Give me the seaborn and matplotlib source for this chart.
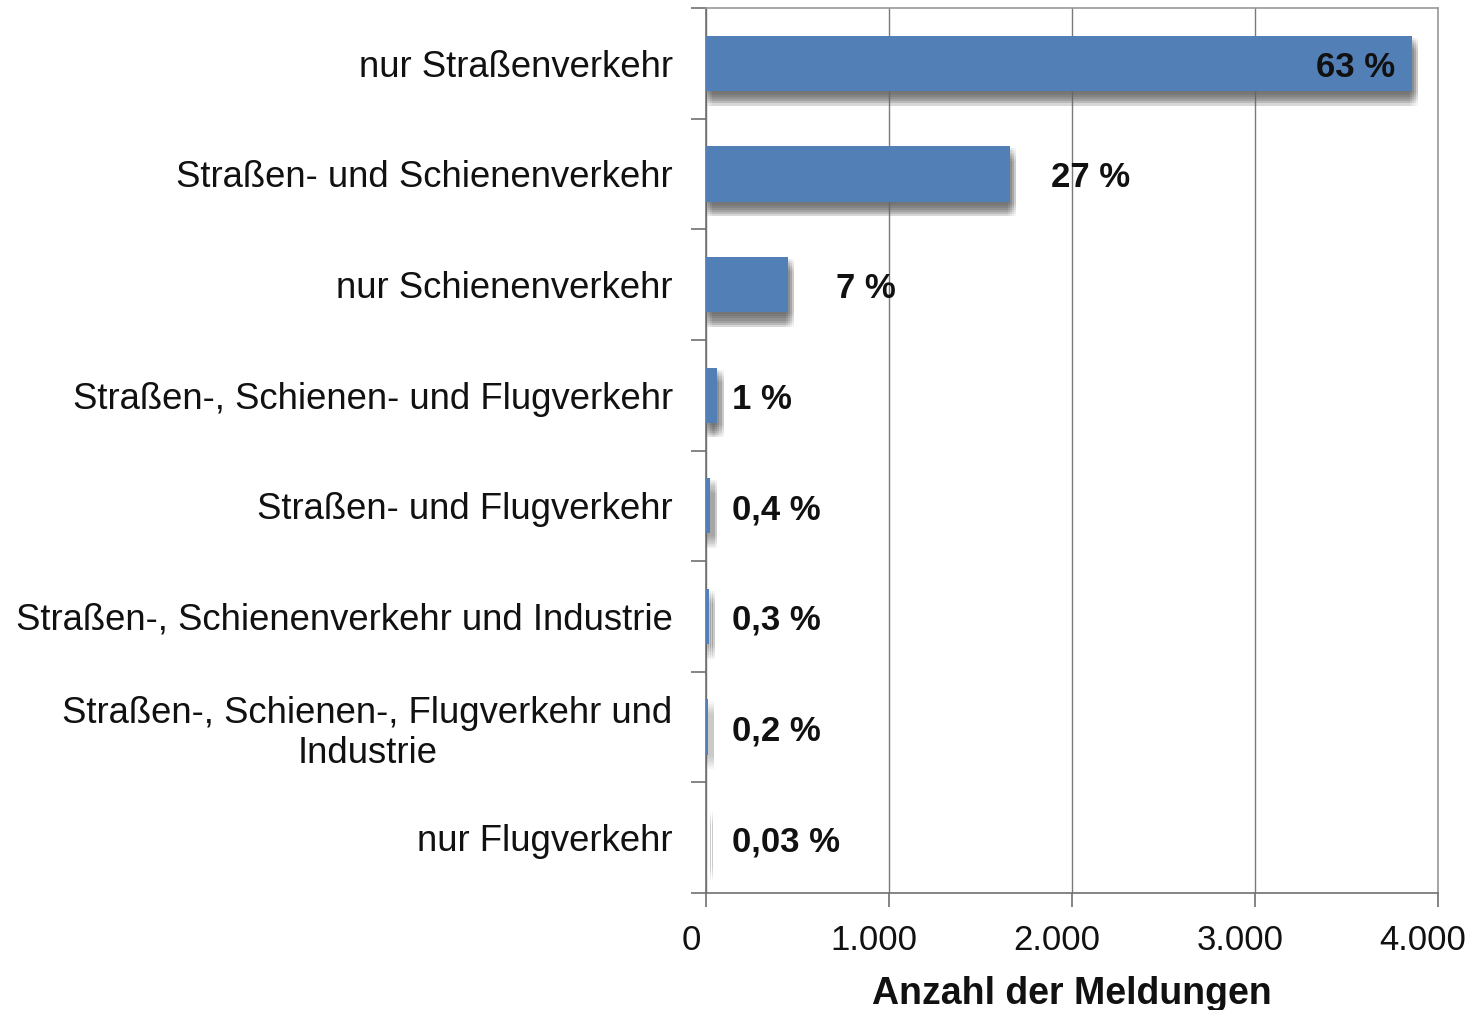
import matplotlib
matplotlib.use("Agg")
import matplotlib.pyplot as plt
import matplotlib.patheffects as pe
import matplotlib.transforms as mtransforms
from matplotlib.ticker import FuncFormatter
import seaborn as sns
import pandas as pd

categories = [
    "nur Straßenverkehr",
    "Straßen- und Schienenverkehr",
    "nur Schienenverkehr",
    "Straßen-, Schienen- und Flugverkehr",
    "Straßen- und Flugverkehr",
    "Straßen-, Schienenverkehr und Industrie",
    "Straßen-, Schienen-, Flugverkehr und\nIndustrie",
    "nur Flugverkehr",
]
counts = [3858, 1660, 448, 62, 24, 17, 12, 2]
pct_labels = ["63 %", "27 %", "7 %", "1 %", "0,4 %", "0,3 %", "0,2 %", "0,03 %"]
x_ticks = [0, 1000, 2000, 3000, 4000]

# label offsets (pixels) from bar end; negative = inside bar
label_offsets = [-17, 41, 48, 15, 22, 23, 24, 26]

sns.set_theme(style="white")
plt.rcParams["font.family"] = ["Liberation Sans", "DejaVu Sans"]

df = pd.DataFrame({"cat": categories, "n": counts})

fig = plt.figure(figsize=(14.77, 10.10), dpi=100)
ax = fig.add_axes([706 / 1477, 1 - 893 / 1010, (1438 - 706) / 1477, (893 - 8) / 1010])

bar_color = "#5280B6"
sns.barplot(data=df, y="cat", x="n", orient="h", color=bar_color, width=0.5,
            saturation=1, ax=ax, zorder=3)

# soft (blurred-looking) drop shadow from layered translucent copies
shadow = []
for dy in (-1.5, -3, -4.5, -6, -7.5, -9, -10.5):
    for dx in (-1.5, 0, 1.5, 3, 4.5):
        shadow.append(pe.SimplePatchShadow(offset=(dx, dy), shadow_rgbFace="#666666", alpha=0.055))
shadow.append(pe.Normal())
for p in ax.patches:
    p.set_edgecolor("none")
    p.set_path_effects(shadow)

ax.set_xlim(0, 4000)
ax.set_ylim(len(categories) - 0.5, -0.5)
ax.set_xticks(x_ticks)
ax.xaxis.set_major_formatter(FuncFormatter(lambda v, _: f"{int(v):,}".replace(",", ".")))

ax.grid(axis="x", color="#7a7a7a", linewidth=1.0, zorder=0)
ax.grid(axis="y", visible=False)
for s in ["top", "right"]:
    ax.spines[s].set_color("#9a9a9a")
    ax.spines[s].set_linewidth(1.2)
for s in ["left", "bottom"]:
    ax.spines[s].set_color("#6f6f6f")
    ax.spines[s].set_linewidth(1.2)

# y labels at category centers, tick marks at category boundaries
ax.set_yticks([i for i in range(len(categories))])
ax.set_yticklabels(categories, fontsize=26.3, color="#111111", multialignment="center")
ax.tick_params(axis="y", which="major", length=0, pad=24)
ax.set_yticks([i - 0.5 for i in range(len(categories) + 1)], minor=True)
ax.tick_params(axis="y", which="minor", length=11, width=1.2, color="#6f6f6f", direction="out", left=True)
ax.tick_params(axis="x", which="major", length=10, width=1.2, color="#6f6f6f", direction="out",
               bottom=True, pad=12, labelsize=25, labelcolor="#111111")
for lbl in ax.get_xticklabels():
    lbl.set_transform(lbl.get_transform() + mtransforms.ScaledTranslation(-15 / 100, 0, fig.dpi_scale_trans))

ax.set_ylabel("")
ax.set_xlabel("Anzahl der Meldungen", fontsize=27, fontweight="bold", color="#111111",
              labelpad=14)

for i, (v, lab, off) in enumerate(zip(counts, pct_labels, label_offsets)):
    ax.annotate(lab, xy=(v, i), xytext=(off, -4), textcoords="offset pixels",
                ha="right" if off < 0 else "left", va="center",
                fontsize=25, fontweight="bold", color="#111111", zorder=5)

fig.savefig("out.png", dpi=100)
